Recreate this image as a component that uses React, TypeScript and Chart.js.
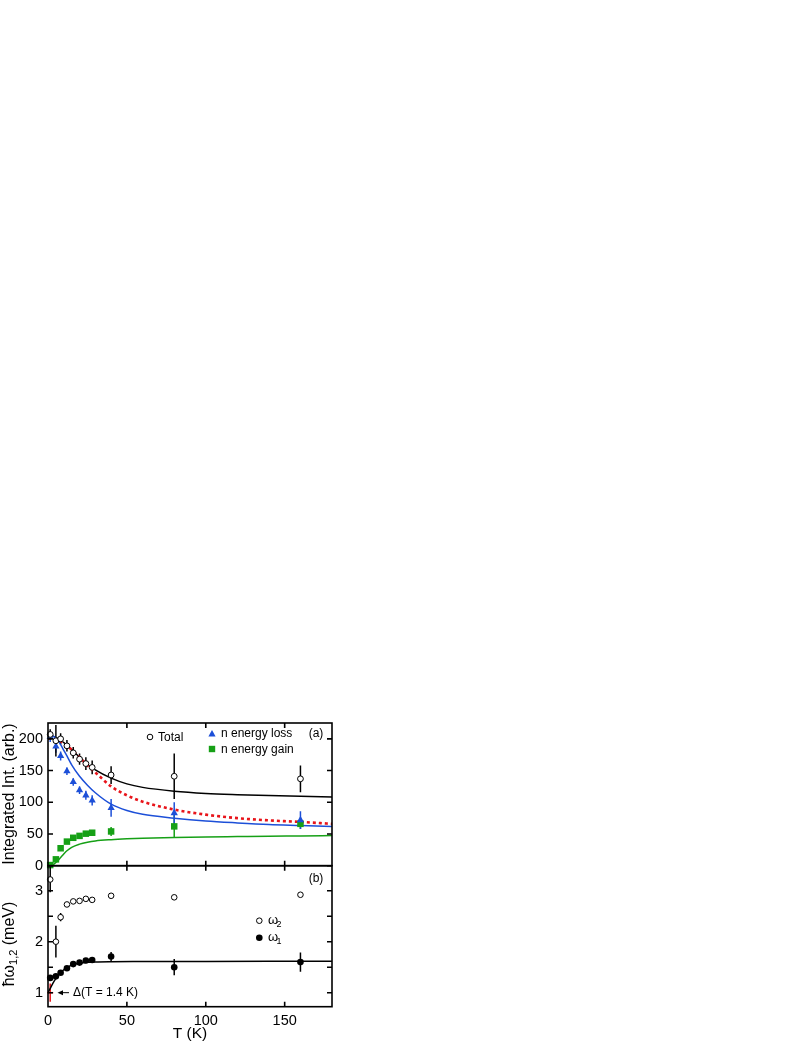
import { useEffect, useRef } from 'react';
import { Chart, registerables } from 'chart.js';
Chart.register(...registerables);

const FONT = '"Liberation Sans", Arial, Helvetica, sans-serif';
const BLUE = '#1c4fd8';
const GREEN = '#16a016';
const RED = '#e8141a';

// measured temperatures (K)
const temps = [1.4, 5, 8, 12, 16, 20, 24, 28, 40, 80, 160];
// panel (a)
const totalInt = [207, 197, 200, 189, 178, 168, 161, 155, 143, 141, 137];
const totalErr = [8, 25, 9, 9, 9, 9, 10, 11, 14, 36, 21];
const lossInt = [203, 188, 173, 149, 132, 119, 111, 103, 91, 83, 72];
const lossErr = [8, 10, 7, 6, 6, 6, 7, 8, 14, 17, 14];
const gainInt = [1, 10, 27.5, 38, 44, 47, 50.5, 52, 54, 62, 66];
const gainErr = [2, 2, 2, 2, 2, 2, 3, 3, 7, 18, 8];
// fit curves (a)
const fitTempsA = [0, 2, 4, 6, 8, 10, 12, 15, 20, 25, 30, 40, 50, 60, 80, 100, 120, 140, 160, 180];
const totalFit = [205, 205, 203.5, 201, 198, 194, 190, 183, 171, 160, 151, 138, 129, 123.5, 117.5, 114, 112, 110.5, 109.5, 108.5];
const boseFit = [201, 201, 200, 198.5, 196, 193, 189, 183, 171, 158, 147, 125, 111, 101, 88.5, 80.5, 75, 71.5, 69, 66];
const lossFit = [206, 205.5, 203, 198, 191, 182, 173, 159, 141, 127, 115, 97, 87, 81, 75, 70.5, 67.5, 65, 63.5, 62];
const gainFit = [0, 0.5, 3, 7.5, 13, 18.5, 23.5, 29, 34, 37, 39, 41, 42.3, 43.2, 44.5, 45.4, 46, 46.6, 47, 47.5];
// panel (b)
const omega2 = [3.22, 2.0, 2.48, 2.73, 2.79, 2.8, 2.84, 2.82, 2.9, 2.87, 2.92];
const omega2Err = [0.25, 0.31, 0.08, 0.03, 0.02, 0.02, 0.02, 0.02, 0.03, 0, 0];
const omega1 = [1.29, 1.32, 1.39, 1.48, 1.56, 1.59, 1.63, 1.64, 1.71, 1.5, 1.6];
const omega1Err = [0.03, 0.03, 0.03, 0.03, 0.03, 0.03, 0.03, 0.03, 0.09, 0.16, 0.19];
const deltaT = [1.4];
const deltaVal = [1.0];
const deltaErr = [0.18];
const fitTempsB = [0, 2, 4, 6, 8, 10, 12, 15, 20, 25, 30, 40, 60, 100, 140, 180];
const gapFit = [1.0, 1.12, 1.23, 1.32, 1.39, 1.45, 1.49, 1.54, 1.575, 1.595, 1.603, 1.608, 1.61, 1.612, 1.614, 1.615];
// ticks
const xTicks = [0, 50, 100, 150];
const yTicksA = [0, 50, 100, 150, 200];
const yTicksB = [1, 1.5, 2, 2.5, 3];

const pts = (xs: number[], ys: number[]) => xs.map((x, i) => ({ x, y: ys[i] }));

function drawErr(chart: any, xs: number[], ys: number[], errs: number[], color: string) {
  const { ctx, chartArea: a } = chart;
  const xS = chart.scales.x, yS = chart.scales.y;
  ctx.save();
  ctx.beginPath();
  ctx.rect(a.left, a.top, a.right - a.left, a.bottom - a.top);
  ctx.clip();
  ctx.strokeStyle = color;
  ctx.lineWidth = 1.5;
  xs.forEach((x, i) => {
    const e = errs[i];
    if (!e) return;
    const px = xS.getPixelForValue(x);
    ctx.beginPath();
    ctx.moveTo(px, yS.getPixelForValue(ys[i] - e));
    ctx.lineTo(px, yS.getPixelForValue(ys[i] + e));
    ctx.stroke();
  });
  ctx.restore();
}

function drawFrame(chart: any, yVals: number[]) {
  const { ctx, chartArea: a } = chart;
  const xS = chart.scales.x, yS = chart.scales.y;
  ctx.save();
  ctx.strokeStyle = '#000';
  ctx.lineWidth = 1.6;
  ctx.strokeRect(a.left, a.top, a.right - a.left, a.bottom - a.top);
  const L = 5;
  ctx.beginPath();
  yVals.forEach((v) => {
    const py = yS.getPixelForValue(v);
    ctx.moveTo(a.left, py); ctx.lineTo(a.left + L, py);
    ctx.moveTo(a.right, py); ctx.lineTo(a.right - L, py);
  });
  xTicks.filter((v) => v > 0).forEach((v) => {
    const px = xS.getPixelForValue(v);
    ctx.moveTo(px, a.top); ctx.lineTo(px, a.top + L);
    ctx.moveTo(px, a.bottom); ctx.lineTo(px, a.bottom - L);
  });
  ctx.stroke();
  ctx.restore();
}

function text(ctx: any, s: string, x: number, y: number, size: number, align = 'left') {
  ctx.font = `${size}px ${FONT}`;
  ctx.fillStyle = '#000';
  ctx.textAlign = align;
  ctx.textBaseline = 'middle';
  ctx.fillText(s, x, y);
}

const pluginA = {
  id: 'panelA',
  beforeDatasetsDraw(chart: any) {
    drawErr(chart, temps, gainInt, gainErr, GREEN);
    drawErr(chart, temps, lossInt, lossErr, BLUE);
    drawErr(chart, temps, totalInt, totalErr, '#000');
  },
  afterDraw(chart: any) {
    const { ctx } = chart;
    drawFrame(chart, yTicksA);
    ctx.save();
    // legend
    ctx.beginPath();
    ctx.arc(150, 737, 2.8, 0, Math.PI * 2);
    ctx.fillStyle = '#fff'; ctx.fill();
    ctx.strokeStyle = '#000'; ctx.lineWidth = 1; ctx.stroke();
    text(ctx, 'Total', 158, 737.5, 12);
    ctx.beginPath();
    ctx.moveTo(212, 730); ctx.lineTo(215.6, 736.6); ctx.lineTo(208.4, 736.6); ctx.closePath();
    ctx.fillStyle = BLUE; ctx.fill();
    text(ctx, 'n energy loss', 221, 734, 12);
    ctx.fillStyle = GREEN;
    ctx.fillRect(208.8, 745.8, 6.4, 6.4);
    text(ctx, 'n energy gain', 221, 749.5, 12);
    text(ctx, '(a)', 316, 733.5, 12, 'center');
    // y title
    ctx.translate(9.5, 794);
    ctx.rotate(-Math.PI / 2);
    text(ctx, 'Integrated Int. (arb.)', 0, 0, 16, 'center');
    ctx.restore();
  },
};

const pluginB = {
  id: 'panelB',
  beforeDatasetsDraw(chart: any) {
    drawErr(chart, temps, omega2, omega2Err, '#000');
    drawErr(chart, temps, omega1, omega1Err, '#000');
    drawErr(chart, deltaT, deltaVal, deltaErr, RED);
  },
  afterDraw(chart: any) {
    const { ctx } = chart;
    const yS = chart.scales.y;
    drawFrame(chart, yTicksB);
    ctx.save();
    // legend
    ctx.beginPath();
    ctx.arc(259.3, 920.7, 2.8, 0, Math.PI * 2);
    ctx.fillStyle = '#fff'; ctx.fill();
    ctx.strokeStyle = '#000'; ctx.lineWidth = 1; ctx.stroke();
    text(ctx, 'ω', 268, 920.5, 13);
    text(ctx, '2', 276.5, 925, 9);
    ctx.beginPath();
    ctx.arc(259.3, 937.7, 3.3, 0, Math.PI * 2);
    ctx.fillStyle = '#000'; ctx.fill();
    text(ctx, 'ω', 268, 937.5, 13);
    text(ctx, '1', 276.5, 942, 9);
    text(ctx, '(b)', 316, 878.5, 12, 'center');
    // Δ annotation
    const py = yS.getPixelForValue(deltaVal[0]);
    ctx.strokeStyle = '#000'; ctx.lineWidth = 1;
    ctx.beginPath(); ctx.moveTo(69, py); ctx.lineTo(60, py); ctx.stroke();
    ctx.beginPath(); ctx.moveTo(57.5, py); ctx.lineTo(63, py - 2.5); ctx.lineTo(63, py + 2.5); ctx.closePath();
    ctx.fillStyle = '#000'; ctx.fill();
    text(ctx, 'Δ(T = 1.4 K)', 73, py + 0.5, 12);
    // x title
    text(ctx, 'T (K)', 190, 1034, 15.5, 'center');
    // y title with subscript
    ctx.translate(9.5, 944);
    ctx.rotate(-Math.PI / 2);
    ctx.font = `16px ${FONT}`;
    const w1 = ctx.measureText('ħω').width;
    const w3 = ctx.measureText(' (meV)').width;
    ctx.font = `11px ${FONT}`;
    const w2 = ctx.measureText('1,2').width;
    let x0 = -(w1 + w2 + w3) / 2;
    text(ctx, 'ħω', x0, 0, 16);
    x0 += w1;
    text(ctx, '1,2', x0, 4, 11);
    x0 += w2;
    text(ctx, ' (meV)', x0, 0, 16);
    ctx.restore();
  },
};

const tickFont = { family: FONT, size: 14.5 };

function cfgA(): any {
  const line = (data: number[], color: string, extra: any = {}) => ({
    data: pts(fitTempsA, data), showLine: true, borderColor: color, borderWidth: 1.5,
    pointRadius: 0, cubicInterpolationMode: 'monotone', order: 10, ...extra,
  });
  return {
    type: 'scatter',
    data: {
      datasets: [
        line(gainFit, GREEN),
        line(lossFit, BLUE),
        line(boseFit, RED, { borderWidth: 2.6, borderDash: [3, 3] }),
        line(totalFit, '#000'),
        { data: pts(temps, gainInt), pointStyle: 'rect', pointRadius: 4.6, backgroundColor: GREEN, borderColor: GREEN, borderWidth: 0, order: 3, clip: false },
        { data: pts(temps, lossInt), pointStyle: 'triangle', pointRadius: 4.2, backgroundColor: BLUE, borderColor: BLUE, borderWidth: 0, order: 2, clip: false },
        { data: pts(temps, totalInt), pointStyle: 'circle', pointRadius: 2.9, backgroundColor: '#fff', borderColor: '#000', borderWidth: 1, order: 1, clip: false },
      ],
    },
    options: {
      responsive: false, animation: false, devicePixelRatio: 1,
      layout: { padding: { left: 0, top: 723, right: 476, bottom: 179.3 } },
      plugins: { legend: { display: false }, tooltip: { enabled: false } },
      scales: {
        x: {
          type: 'linear', min: 0, max: 180,
          grid: { display: false, drawTicks: false }, border: { display: false },
          ticks: { display: false },
          afterFit: (s: any) => { s.height = 0; },
        },
        y: {
          type: 'linear', min: 0, max: 225,
          grid: { display: false, drawTicks: false }, border: { display: false },
          ticks: { font: tickFont, color: '#000', padding: 5 },
          afterBuildTicks: (s: any) => { s.ticks = yTicksA.map((v) => ({ value: v })); },
          afterFit: (s: any) => { s.width = 48; },
        },
      },
    },
    plugins: [pluginA],
  };
}

function cfgB(): any {
  return {
    type: 'scatter',
    data: {
      datasets: [
        { data: pts(fitTempsB, gapFit), showLine: true, borderColor: '#000', borderWidth: 1.5, pointRadius: 0, cubicInterpolationMode: 'monotone', order: 10 },
        { data: pts(deltaT, deltaVal), pointStyle: 'line', pointRadius: 3, borderColor: RED, borderWidth: 1.5, order: 1, clip: false },
        { data: pts(temps, omega1), pointStyle: 'circle', pointRadius: 3.3, backgroundColor: '#000', borderColor: '#000', borderWidth: 0, order: 2, clip: false },
        { data: pts(temps, omega2), pointStyle: 'circle', pointRadius: 2.8, backgroundColor: '#fff', borderColor: '#000', borderWidth: 1, order: 2, clip: false },
      ],
    },
    options: {
      responsive: false, animation: false, devicePixelRatio: 1,
      layout: { padding: { left: 0, top: 865.7, right: 476, bottom: 0 } },
      plugins: { legend: { display: false }, tooltip: { enabled: false } },
      scales: {
        x: {
          type: 'linear', min: 0, max: 180,
          grid: { display: false, drawTicks: false }, border: { display: false },
          ticks: { font: tickFont, color: '#000', padding: 6, maxRotation: 0 },
          afterBuildTicks: (s: any) => { s.ticks = xTicks.map((v) => ({ value: v })); },
          afterFit: (s: any) => { s.height = 38.3; },
        },
        y: {
          type: 'linear', min: 0.725, max: 3.49,
          grid: { display: false, drawTicks: false }, border: { display: false },
          ticks: {
            font: tickFont, color: '#000', padding: 5,
            callback: (v: number) => (Number.isInteger(v) ? String(v) : ''),
          },
          afterBuildTicks: (s: any) => { s.ticks = yTicksB.map((v) => ({ value: v })); },
          afterFit: (s: any) => { s.width = 48; },
        },
      },
    },
    plugins: [pluginB],
  };
}

export default function App() {
  const refA = useRef<HTMLCanvasElement>(null);
  const refB = useRef<HTMLCanvasElement>(null);
  useEffect(() => {
    const a = new Chart(refA.current as HTMLCanvasElement, cfgA());
    const b = new Chart(refB.current as HTMLCanvasElement, cfgB());
    return () => { a.destroy(); b.destroy(); };
  }, []);
  const cs: any = { position: 'absolute', left: 0, top: 0, width: 808, height: 1045 };
  return (
    <div style={{ position: 'absolute', left: 0, top: 0, width: 808, height: 1045 }}>
      <canvas ref={refA} width={808} height={1045} style={cs} />
      <canvas ref={refB} width={808} height={1045} style={cs} />
    </div>
  );
}
